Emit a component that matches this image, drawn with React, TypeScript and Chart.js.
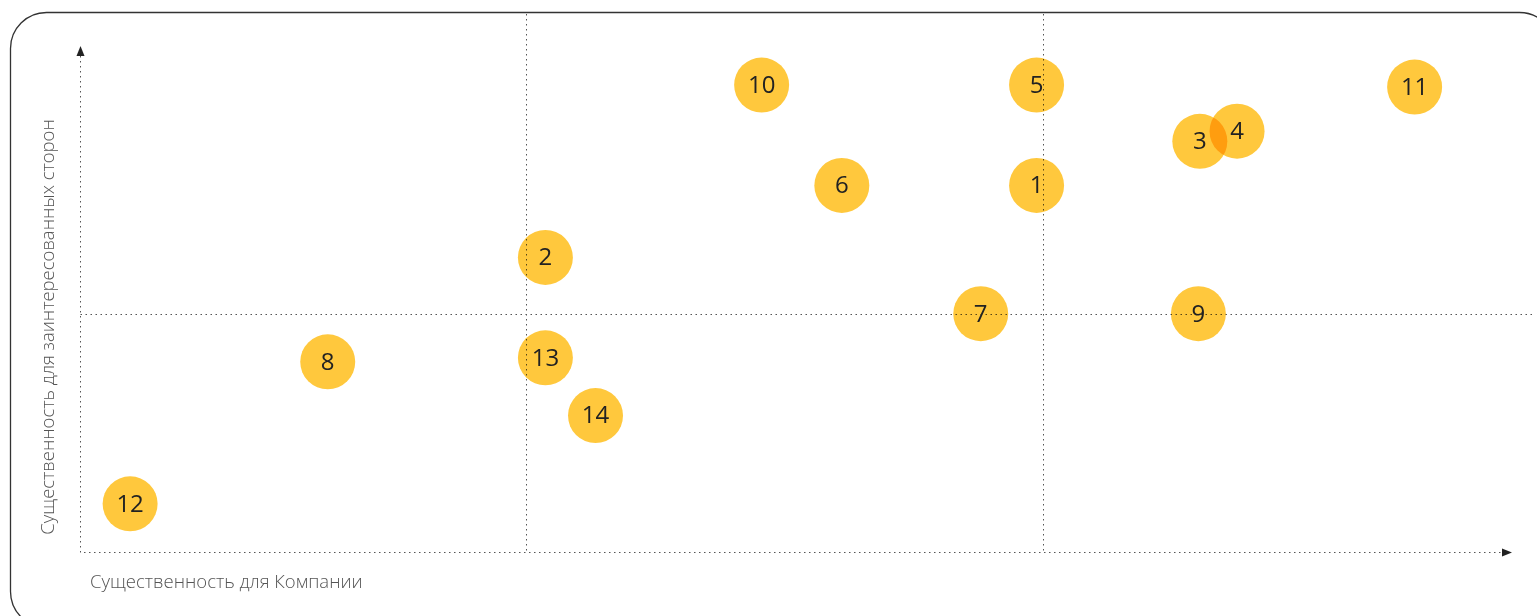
import React, { useEffect, useRef } from "react";
import { Chart, registerables } from "chart.js";

Chart.register(...registerables);

const topicLabels = ["1", "2", "3", "4", "5", "6", "7", "8", "9", "10", "11", "12", "13", "14"];
const companyValues = [66.8, 32.5, 78.2, 80.8, 66.8, 53.2, 62.9, 17.3, 78.1, 47.6, 93.2, 3.5, 32.5, 36.0];
const stakeholderValues = [72.5, 58.3, 81.2, 83.2, 92.3, 72.5, 47.2, 37.7, 47.2, 92.3, 91.9, 9.7, 38.5, 27.1];
const quadrantX = [31.15, 67.25];
const quadrantY = [47.2];
const xTitle = "Существенность для Компании";
const yTitle = "Существенность для заинтересованных сторон";

const BUBBLE_R = 27.5;
const BUBBLE_COLOR = "#FFC83D";
const FONT = "'Open Sans', 'Noto Sans', sans-serif";

const decorPlugin = {
  id: "decor",
  beforeDraw(chart: any) {
    const ctx = chart.ctx as CanvasRenderingContext2D;
    const { left, right, top, bottom } = chart.chartArea;
    const xs = chart.scales.x;
    const ys = chart.scales.y;
    ctx.save();
    // rounded frame
    ctx.strokeStyle = "#333333";
    ctx.lineWidth = 1.3;
    const bx = 10.5, by = 12.5, bw = 1545, bh = 615, rad = 36;
    ctx.beginPath();
    ctx.moveTo(bx + rad, by);
    ctx.lineTo(bx + bw - rad, by);
    ctx.arcTo(bx + bw, by, bx + bw, by + rad, rad);
    ctx.lineTo(bx + bw, by + bh - rad);
    ctx.arcTo(bx + bw, by + bh, bx + bw - rad, by + bh, rad);
    ctx.lineTo(bx + rad, by + bh);
    ctx.arcTo(bx, by + bh, bx, by + bh - rad, rad);
    ctx.lineTo(bx, by + rad);
    ctx.arcTo(bx, by, bx + rad, by, rad);
    ctx.closePath();
    ctx.stroke();

    // dotted lines
    ctx.strokeStyle = "#555555";
    ctx.lineWidth = 1;
    ctx.setLineDash([1.5, 3.5]);
    const ax = Math.round(left) + 0.5;
    const ay = Math.round(bottom) - 0.5;
    ctx.beginPath();
    ctx.moveTo(ax, top + 10);
    ctx.lineTo(ax, ay);
    ctx.lineTo(right - 9, ay);
    ctx.stroke();
    quadrantX.forEach((v) => {
      const px = Math.round(xs.getPixelForValue(v)) + 0.5;
      ctx.beginPath();
      ctx.moveTo(px, 14);
      ctx.lineTo(px, ay);
      ctx.stroke();
    });
    quadrantY.forEach((v) => {
      const py = Math.round(ys.getPixelForValue(v)) + 0.5;
      ctx.beginPath();
      ctx.moveTo(ax, py);
      ctx.lineTo(1535, py);
      ctx.stroke();
    });
    ctx.setLineDash([]);

    // arrows
    ctx.fillStyle = "#222222";
    ctx.beginPath();
    ctx.moveTo(ax, top);
    ctx.lineTo(ax + 4, top + 10);
    ctx.lineTo(ax - 4, top + 10);
    ctx.closePath();
    ctx.fill();
    ctx.beginPath();
    ctx.moveTo(right, ay);
    ctx.lineTo(right - 10, ay + 4);
    ctx.lineTo(right - 10, ay - 4);
    ctx.closePath();
    ctx.fill();

    // axis titles
    ctx.fillStyle = "#555555";
    ctx.font = `300 18.5px ${FONT}`;
    ctx.textBaseline = "middle";
    ctx.textAlign = "left";
    ctx.fillText(xTitle, 90, 583);
    ctx.save();
    ctx.translate(49, 327);
    ctx.rotate(-Math.PI / 2);
    ctx.textAlign = "center";
    ctx.fillText(yTitle, 0, 0);
    ctx.restore();
    ctx.restore();
  },
  beforeDatasetsDraw(chart: any) {
    chart.ctx.save();
    chart.ctx.globalCompositeOperation = "multiply";
  },
  afterDatasetsDraw(chart: any) {
    const ctx = chart.ctx as CanvasRenderingContext2D;
    ctx.restore();
    ctx.save();
    ctx.fillStyle = "#222222";
    ctx.font = `400 24px ${FONT}`;
    ctx.textAlign = "center";
    ctx.textBaseline = "middle";
    const meta = chart.getDatasetMeta(0);
    meta.data.forEach((el: any, i: number) => {
      ctx.fillText(topicLabels[i], el.x, el.y + 1);
    });
    ctx.restore();
  },
};

export default function App() {
  const ref = useRef<HTMLCanvasElement | null>(null);
  useEffect(() => {
    if (!ref.current) return;
    const chart = new Chart(ref.current, {
      type: "bubble",
      data: {
        labels: topicLabels,
        datasets: [
          {
            data: topicLabels.map((_, i) => ({ x: companyValues[i], y: stakeholderValues[i], r: BUBBLE_R })),
            backgroundColor: BUBBLE_COLOR,
            borderWidth: 0,
            clip: false as any,
          },
        ],
      },
      options: {
        animation: false,
        responsive: false,
        layout: { autoPadding: false, padding: { left: 80, right: 25, top: 46, bottom: 63 } } as any,
        scales: {
          x: { display: false, min: 0, max: 100 },
          y: { display: false, min: 0, max: 100 },
        },
        plugins: { legend: { display: false }, tooltip: { enabled: false } },
      },
      plugins: [decorPlugin],
    });
    return () => chart.destroy();
  }, []);
  return (
    <div style={{ position: "absolute", left: 0, top: 0, width: 1537, height: 616, background: "#fff" }}>
      <canvas ref={ref} width={1537} height={616} style={{ display: "block" }} />
    </div>
  );
}
